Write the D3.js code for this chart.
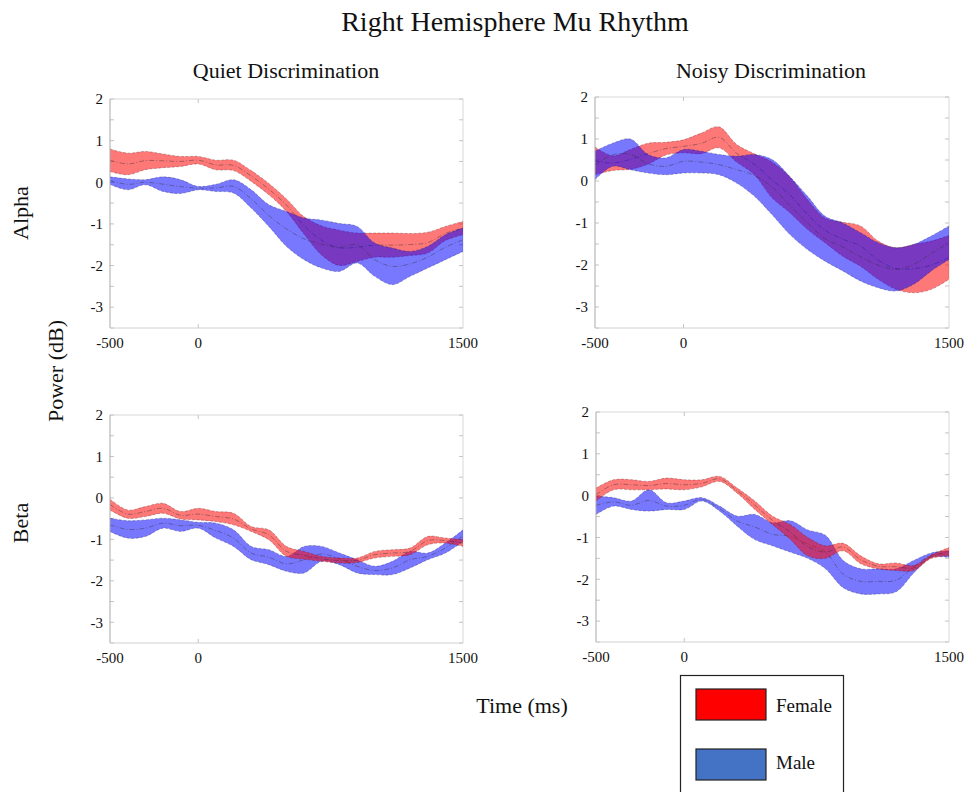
<!DOCTYPE html>
<html>
<head>
<meta charset="utf-8">
<script src="https://cdn.jsdelivr.net/npm/d3@7"></script>
<style>
  body { margin: 0; background: #fff; }
  svg text { font-family: "Liberation Serif", "Times New Roman", serif; fill: #111; }
</style>
</head>
<body>
<div id="chart"></div>
<script>
// sample times (ms)
const times = [-500, -400, -300, -200, -100, 0, 100, 200, 300, 400, 500, 600, 700, 800, 900, 1000, 1100, 1200, 1300, 1400, 1500];

// Alpha / Quiet
const aqFemaleLo = [0.26, 0.18, 0.30, 0.35, 0.38, 0.44, 0.30, 0.28, 0.02, -0.30, -0.70, -1.25, -1.75, -2.0, -1.9, -1.8, -1.8, -1.76, -1.70, -1.40, -1.26];
const aqFemaleHi = [0.80, 0.70, 0.74, 0.68, 0.62, 0.62, 0.53, 0.53, 0.28, -0.03, -0.40, -0.83, -1.05, -1.15, -1.22, -1.22, -1.22, -1.23, -1.20, -1.06, -0.94];
const aqMaleLo = [-0.05, -0.18, -0.06, -0.22, -0.27, -0.18, -0.22, -0.26, -0.62, -1.06, -1.54, -1.86, -2.06, -2.14, -1.94, -2.26, -2.46, -2.26, -2.06, -1.86, -1.66];
const aqMaleHi = [0.13, 0.08, 0.06, 0.13, 0.06, -0.10, -0.05, 0.06, -0.18, -0.54, -0.70, -0.86, -0.91, -0.99, -1.06, -1.46, -1.58, -1.66, -1.54, -1.26, -1.10];

// Alpha / Noisy
const anFemaleLo = [0.15, 0.25, 0.28, 0.40, 0.62, 0.67, 0.65, 0.79, 0.45, 0.15, -0.40, -0.75, -1.15, -1.47, -1.79, -2.03, -2.34, -2.58, -2.66, -2.58, -2.34];
const anFemaleHi = [0.81, 0.60, 0.75, 0.90, 0.92, 0.98, 1.14, 1.29, 0.87, 0.65, 0.45, 0.10, -0.44, -0.88, -0.98, -1.07, -1.43, -1.59, -1.51, -1.43, -1.30];
const anMaleLo = [0.03, 0.35, 0.27, 0.19, 0.15, 0.19, 0.19, 0.15, -0.05, -0.36, -0.80, -1.27, -1.63, -1.91, -2.14, -2.38, -2.54, -2.62, -2.46, -2.14, -1.87];
const anMaleHi = [0.71, 0.90, 1.00, 0.63, 0.55, 0.75, 0.71, 0.63, 0.59, 0.63, 0.51, 0.11, -0.36, -0.84, -1.00, -1.23, -1.47, -1.59, -1.51, -1.31, -1.07];

// Beta / Quiet
const bqFemaleLo = [-0.29, -0.49, -0.45, -0.37, -0.51, -0.53, -0.57, -0.65, -0.81, -1.01, -1.41, -1.48, -1.53, -1.57, -1.56, -1.45, -1.41, -1.37, -1.13, -1.09, -1.17];
const bqFemaleHi = [-0.03, -0.29, -0.21, -0.13, -0.33, -0.25, -0.33, -0.37, -0.69, -0.77, -1.17, -1.29, -1.41, -1.45, -1.45, -1.29, -1.25, -1.21, -0.93, -0.97, -1.01];
const bqMaleLo = [-0.81, -0.97, -0.93, -0.73, -0.81, -0.73, -0.97, -1.17, -1.49, -1.61, -1.77, -1.81, -1.53, -1.61, -1.81, -1.85, -1.85, -1.69, -1.49, -1.33, -1.05];
const bqMaleHi = [-0.49, -0.55, -0.53, -0.49, -0.53, -0.59, -0.61, -0.77, -1.17, -1.25, -1.41, -1.17, -1.17, -1.33, -1.49, -1.65, -1.53, -1.29, -1.33, -1.09, -0.77];

// Beta / Noisy
const bnFemaleLo = [-0.13, 0.14, 0.14, 0.14, 0.16, 0.14, 0.21, 0.34, 0.06, -0.33, -0.69, -1.04, -1.44, -1.50, -1.32, -1.63, -1.75, -1.79, -1.79, -1.50, -1.44];
const bnFemaleHi = [0.18, 0.38, 0.38, 0.34, 0.42, 0.38, 0.38, 0.46, 0.18, -0.13, -0.49, -0.69, -1.00, -1.20, -1.14, -1.44, -1.63, -1.61, -1.67, -1.42, -1.24];
const bnMaleLo = [-0.45, -0.25, -0.33, -0.37, -0.33, -0.33, -0.13, -0.37, -0.73, -1.05, -1.20, -1.35, -1.50, -1.75, -2.20, -2.35, -2.35, -2.30, -1.85, -1.48, -1.48];
const bnMaleHi = [-0.01, -0.05, -0.13, 0.14, -0.17, -0.13, -0.05, -0.25, -0.49, -0.45, -0.65, -0.60, -0.82, -0.95, -1.55, -1.75, -1.75, -1.75, -1.55, -1.37, -1.32];

const yTicks = [-3, -2, -1, 0, 1, 2];
const xTicks = [-500, 0, 1500];
const groups = ["Female", "Male"];

const width = 969, height = 792;
const svg = d3.select("#chart").append("svg")
  .attr("width", width)
  .attr("height", height);

const panels = [
  { left: 110, top: 99, right: 463, bottom: 328, female: [aqFemaleLo, aqFemaleHi], male: [aqMaleLo, aqMaleHi], maleOnTop: true },
  { left: 595, top: 97, right: 949, bottom: 328, female: [anFemaleLo, anFemaleHi], male: [anMaleLo, anMaleHi], maleOnTop: true },
  { left: 110, top: 415, right: 463, bottom: 643, female: [bqFemaleLo, bqFemaleHi], male: [bqMaleLo, bqMaleHi], maleOnTop: false },
  { left: 596, top: 412, right: 949, bottom: 642, female: [bnFemaleLo, bnFemaleHi], male: [bnMaleLo, bnMaleHi], maleOnTop: false }
];

const bandFill = { Female: "rgba(255,0,0,0.53)", Male: "rgba(0,0,255,0.53)" };
const edgeColor = { Female: "#5a1010", Male: "#10105a" };

panels.forEach((p) => {
  const x = d3.scaleLinear().domain([-500, 1500]).range([p.left, p.right]);
  const y = d3.scaleLinear().domain([-3.5, 2]).range([p.bottom, p.top]);
  const g = svg.append("g");

  // frame
  g.append("line").attr("x1", p.left).attr("x2", p.right).attr("y1", p.top).attr("y2", p.top)
    .attr("stroke", "#d8d8d8");
  g.append("line").attr("x1", p.right).attr("x2", p.right).attr("y1", p.top).attr("y2", p.bottom)
    .attr("stroke", "#d8d8d8");

  // minor ticks every 0.5 on both sides
  const minor = d3.range(-3.5, 2.01, 0.5);
  g.selectAll(".tl").data(minor).enter().append("line")
    .attr("x1", p.left).attr("x2", p.left + 4)
    .attr("y1", (d) => y(d)).attr("y2", (d) => y(d))
    .attr("stroke", "#c4c4c4");
  g.selectAll(".tr").data(minor).enter().append("line")
    .attr("x1", p.right - 4).attr("x2", p.right)
    .attr("y1", (d) => y(d)).attr("y2", (d) => y(d))
    .attr("stroke", "#c4c4c4");
  g.append("line").attr("x1", x(0)).attr("x2", x(0)).attr("y1", p.bottom).attr("y2", p.bottom - 4)
    .attr("stroke", "#c4c4c4");
  g.append("line").attr("x1", x(0)).attr("x2", x(0)).attr("y1", p.top).attr("y2", p.top + 4)
    .attr("stroke", "#c4c4c4");

  const area = (lo, hi) => d3.area()
    .x((d, i) => x(times[i]))
    .y0((d, i) => y(lo[i]))
    .y1((d, i) => y(hi[i]))
    .curve(d3.curveCatmullRom.alpha(0.5))(times);

  const line = (vals) => d3.line()
    .x((d, i) => x(times[i]))
    .y((d, i) => y(vals[i]))
    .curve(d3.curveCatmullRom.alpha(0.5))(times);

  const order = p.maleOnTop ? ["Female", "Male"] : ["Male", "Female"];
  order.forEach((name) => {
    const [lo, hi] = name === "Female" ? p.female : p.male;
    const mean = lo.map((v, i) => (v + hi[i]) / 2);
    g.append("path").attr("d", area(lo, hi)).attr("fill", bandFill[name]);
    [lo, hi].forEach((edge) => {
      g.append("path").attr("d", line(edge))
        .attr("fill", "none")
        .attr("stroke", edgeColor[name])
        .attr("stroke-opacity", 0.45)
        .attr("stroke-width", 0.7)
        .attr("stroke-dasharray", "3,1.5");
    });
    g.append("path").attr("d", line(mean))
      .attr("fill", "none")
      .attr("stroke", "#333")
      .attr("stroke-opacity", 0.55)
      .attr("stroke-width", 0.8)
      .attr("stroke-dasharray", "5,2,1,2");
  });

  // left and bottom axis lines
  g.append("line").attr("x1", p.left).attr("x2", p.left).attr("y1", p.top).attr("y2", p.bottom)
    .attr("stroke", "#a8a8a8");
  g.append("line").attr("x1", p.left).attr("x2", p.right).attr("y1", p.bottom).attr("y2", p.bottom)
    .attr("stroke", "#d0d0d0");

  g.selectAll(".yl").data(yTicks).enter().append("text")
    .attr("x", p.left - 7)
    .attr("y", (d) => y(d))
    .attr("dy", "0.35em")
    .attr("text-anchor", "end")
    .style("font-size", "15px")
    .text((d) => d);

  g.selectAll(".xl").data(xTicks).enter().append("text")
    .attr("x", (d) => x(d))
    .attr("y", p.bottom + 20)
    .attr("text-anchor", "middle")
    .style("font-size", "15px")
    .text((d) => d);
});

// titles
svg.append("text").attr("x", 515).attr("y", 31).attr("text-anchor", "middle")
  .style("font-size", "28px").text("Right Hemisphere Mu Rhythm");
svg.append("text").attr("x", 286).attr("y", 78).attr("text-anchor", "middle")
  .style("font-size", "22px").text("Quiet Discrimination");
svg.append("text").attr("x", 771).attr("y", 78).attr("text-anchor", "middle")
  .style("font-size", "22px").text("Noisy Discrimination");

const vLabel = (txt, cx, cy) => {
  svg.append("text")
    .attr("transform", "translate(" + cx + "," + cy + ") rotate(-90)")
    .attr("text-anchor", "middle")
    .style("font-size", "22px")
    .text(txt);
};
vLabel("Alpha", 28, 213);
vLabel("Beta", 28, 523);
vLabel("Power (dB)", 63, 371);

svg.append("text").attr("x", 522).attr("y", 713).attr("text-anchor", "middle")
  .style("font-size", "22px").text("Time (ms)");

// legend
const legendColor = { Female: "#ff0000", Male: "#4472c4" };
svg.append("rect").attr("x", 680.5).attr("y", 675.5).attr("width", 163).attr("height", 130)
  .attr("fill", "#fff").attr("stroke", "#222").attr("stroke-width", 1.2);
groups.forEach((name, i) => {
  svg.append("rect")
    .attr("x", 696).attr("y", 689 + i * 60)
    .attr("width", 70).attr("height", 31)
    .attr("fill", legendColor[name])
    .attr("stroke", "#222").attr("stroke-width", 1.2);
  svg.append("text")
    .attr("x", 776).attr("y", 712 + i * 57)
    .style("font-size", "19px")
    .text(name);
});
</script>
</body>
</html>
